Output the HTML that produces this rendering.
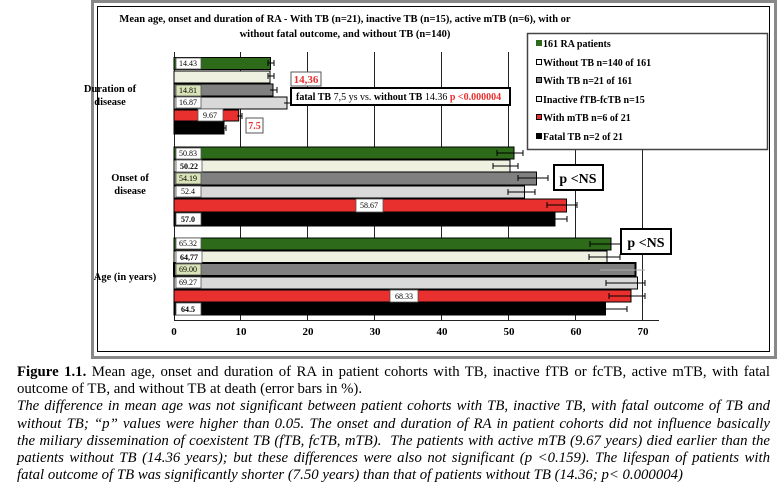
<!DOCTYPE html>
<html><head><meta charset="utf-8"><style>
body{margin:0;background:#fff;width:777px;height:493px;overflow:hidden;font-family:"Liberation Serif",serif}
.cap{position:absolute;left:17px;width:753px;font-size:14.8px;line-height:17.2px;color:#000;top:364px}
.cap div{text-align:justify;text-align-last:justify;white-space:nowrap}
.cap div.l{text-align-last:left}
</style></head><body>
<svg width="777" height="360" style="position:absolute;left:0;top:0" font-family="Liberation Serif, serif">
<rect x="92.5" y="1.5" width="683" height="356" fill="#fff" stroke="#888" stroke-width="3"/>
<rect x="97.5" y="6.5" width="672" height="345" fill="#fff" stroke="#000" stroke-width="1"/>
<text x="345" y="22" font-size="10.5" font-weight="bold" text-anchor="middle">Mean age, onset  and duration of  RA - With TB (n=21), inactive  TB (n=15), active mTB (n=6), with or</text>
<text x="345" y="37" font-size="10.5" font-weight="bold" text-anchor="middle">without fatal outcome, and without TB (n=140)</text>
<g stroke="#222" stroke-width="1">
<line x1="240.5" y1="52" x2="240.5" y2="320"/><line x1="307.5" y1="52" x2="307.5" y2="320"/>
<line x1="374.5" y1="52" x2="374.5" y2="320"/><line x1="441.5" y1="52" x2="441.5" y2="320"/>
<line x1="508.5" y1="52" x2="508.5" y2="320"/><line x1="575.5" y1="52" x2="575.5" y2="320"/>
<line x1="642.5" y1="52" x2="642.5" y2="320"/>
<line x1="174.5" y1="52" x2="174.5" y2="321"/><line x1="174" y1="320.5" x2="659" y2="320.5"/>
</g>
<g font-size="11" font-weight="bold" text-anchor="middle">
<text x="174" y="335">0</text><text x="241" y="335">10</text><text x="308" y="335">20</text><text x="375" y="335">30</text><text x="442" y="335">40</text><text x="509" y="335">50</text><text x="576" y="335">60</text><text x="643" y="335">70</text>
</g>
<g font-size="10.5" font-weight="bold" text-anchor="middle">
<text x="110" y="92">Duration of</text><text x="110" y="105">disease</text>
<text x="130" y="181">Onset of</text><text x="130" y="194">disease</text>
<text x="125" y="280">Age (in years)</text>
</g>
<g stroke="#000" stroke-width="1">
<rect x="174" y="57.5" width="96.5" height="12" fill="#2d6a1a"/>
<rect x="174" y="71" width="96" height="12" fill="#eef0e0"/>
<rect x="174" y="84" width="99" height="12" fill="#808080"/>
<rect x="174" y="97" width="113" height="12" fill="#d9d9d9"/>
<rect x="174" y="110" width="64.7" height="11" fill="#e8302f"/>
<rect x="174" y="122" width="50" height="12" fill="#000"/>
<rect x="174" y="147" width="340" height="12" fill="#2d6a1a"/>
<rect x="174" y="160" width="336" height="12" fill="#eef0e0"/>
<rect x="174" y="172" width="362.5" height="13" fill="#808080"/>
<rect x="174" y="186" width="350.5" height="12" fill="#d9d9d9"/>
<rect x="174" y="199" width="392.5" height="13" fill="#e8302f"/>
<rect x="174" y="213" width="381" height="13" fill="#000"/>
<rect x="174" y="238" width="437" height="12" fill="#2d6a1a"/>
<rect x="174" y="251" width="433" height="12" fill="#eef0e0"/>
<rect x="174" y="263" width="461.5" height="13" fill="#808080" stroke-width="2"/>
<rect x="174" y="277" width="463.5" height="12" fill="#d9d9d9"/>
<rect x="174" y="290" width="457" height="12" fill="#e8302f"/>
<rect x="174" y="302" width="431.5" height="13" fill="#000"/>
</g>
<g stroke="#000" stroke-width="1" fill="none">
<path d="M268 63h6M268 60v6M274 60v6"/><path d="M268 76h6M268 73v6M274 73v6"/>
<path d="M270 90h7M277 87v6"/><path d="M284 103h9M293 100v6"/>
<path d="M237 116h5M242 113v6"/><path d="M222 128h4M226 125v6"/>
<path d="M497 153h26M497 150v6M523 150v6"/><path d="M493 166h25M493 163v6M518 163v6"/>
<path d="M518 178h30M518 175v6M548 175v6"/><path d="M508 192h27M508 189v6M535 189v6"/>
<path d="M547 205h30M547 202v6M577 202v6"/><path d="M550 219h17M567 216v6"/>
<path d="M590 244h30M590 241v6"/><path d="M589 257h31M589 254v6M620 254v6"/>
<path d="M600 270h45" stroke="#aaa"/><path d="M606 283h39M606 280v6M645 280v6"/>
<path d="M609 296h36M609 293v6M645 293v6"/><path d="M605 309h22M627 306v6"/>
</g>
<g font-size="8" text-anchor="middle">
<g fill="#fff" stroke="#555" stroke-width=".8">
<rect x="176" y="58" width="25" height="11"/><rect x="176" y="85" width="25" height="11" fill="#d8e4b8"/><rect x="176" y="97" width="25" height="11"/>
<rect x="198" y="109" width="25" height="12"/>
<rect x="176" y="148" width="25" height="11"/><rect x="176" y="160" width="26" height="12"/><rect x="176" y="173" width="25" height="11" fill="#d8e4b8"/><rect x="176" y="186" width="25" height="11"/>
<rect x="356" y="199" width="27" height="13"/><rect x="176" y="213" width="25" height="12"/>
<rect x="176" y="238" width="25" height="11"/><rect x="176" y="251" width="26" height="12"/><rect x="176" y="264" width="25" height="11" fill="#d8e4b8"/><rect x="176" y="277" width="25" height="11"/>
<rect x="390" y="290" width="28" height="12"/><rect x="176" y="303" width="25" height="12"/>
</g>
<text x="188" y="66">14.43</text><text x="188" y="93">14.81</text><text x="188" y="105">16.87</text><text x="210" y="118">9.67</text>
<text x="188" y="156">50.83</text><text x="189" y="169" font-weight="bold">50.22</text><text x="188" y="181">54.19</text><text x="188" y="194">52.4</text>
<text x="369" y="208">58.67</text><text x="188" y="222" font-weight="bold">57.0</text>
<text x="188" y="246">65.32</text><text x="189" y="260" font-weight="bold">64,77</text><text x="188" y="272">69.00</text><text x="188" y="285">69.27</text>
<text x="404" y="299">68.33</text><text x="188" y="312" font-weight="bold">64.5</text>
</g>
<rect x="291" y="72" width="30" height="14" fill="#fff" stroke="#555"/>
<text x="306" y="83" font-size="11" font-weight="bold" fill="#e8302f" text-anchor="middle">14,36</text>
<rect x="291" y="88" width="219" height="17" fill="#fff" stroke="#000" stroke-width="2"/>
<text x="296" y="100" font-size="10"><tspan font-weight="bold">fatal TB</tspan> 7,5 ys vs. <tspan font-weight="bold">without TB</tspan> 14.36 <tspan fill="#e8302f" font-weight="bold">p &lt;0.000004</tspan></text>
<rect x="246" y="118" width="17" height="15" fill="#fff" stroke="#555"/>
<text x="254.5" y="129" font-size="10" font-weight="bold" fill="#e8302f" text-anchor="middle">7.5</text>
<rect x="554" y="165" width="49" height="25" fill="#fff" stroke="#000" stroke-width="2"/>
<text x="578" y="183" font-size="14" font-weight="bold" text-anchor="middle">p &lt;NS</text>
<rect x="621" y="229" width="50" height="25" fill="#fff" stroke="#000" stroke-width="2"/>
<text x="646" y="247" font-size="14" font-weight="bold" text-anchor="middle">p &lt;NS</text>
<rect x="527.5" y="33.5" width="240" height="116" fill="#fff" stroke="#444" stroke-width="1.5"/>
<g font-size="10" font-weight="bold">
<rect x="536" y="40" width="6" height="6" fill="#2d6a1a"/><text x="543" y="47">161 RA patients</text>
<rect x="536.5" y="59.5" width="5" height="5" fill="#fff" stroke="#000"/><text x="543" y="66">Without TB n=140 of 161</text>
<rect x="536.5" y="77.5" width="5" height="5" fill="#808080" stroke="#000"/><text x="543" y="84">With TB n=21 of 161</text>
<rect x="536.5" y="96.5" width="5" height="5" fill="#eee" stroke="#000"/><text x="543" y="103">Inactive fTB-fcTB n=15</text>
<rect x="536.5" y="114.5" width="5" height="5" fill="#e8302f" stroke="#000"/><text x="543" y="121">With mTB n=6 of 21</text>
<rect x="536" y="133" width="6" height="6" fill="#000"/><text x="543" y="140">Fatal TB n=2 of 21</text>
</g>
</svg>
<div class="cap">
<div><b>Figure 1.1.</b> Mean age, onset and duration of RA in patient cohorts with TB, inactive fTB or fcTB, active mTB, with fatal</div>
<div class="l">outcome of TB, and without TB at death (error bars in %).</div>
<i>
<div>The difference in mean age was not significant between patient cohorts with TB, inactive TB, with fatal outcome of TB and</div>
<div>without TB; “p” values were higher than 0.05. The onset and duration of RA in patient cohorts did not influence basically</div>
<div>the miliary dissemination of coexistent TB (fTB, fcTB, mTB). &nbsp;The patients with active mTB (9.67 years) died earlier than the</div>
<div>patients without TB (14.36 years); but these differences were also not significant (p &lt;0.159). The lifespan of patients with</div>
<div class="l">fatal outcome of TB was significantly shorter (7.50 years) than that of patients without TB (14.36; p&lt; 0.000004)</div>
</i>
</div>
</body></html>
